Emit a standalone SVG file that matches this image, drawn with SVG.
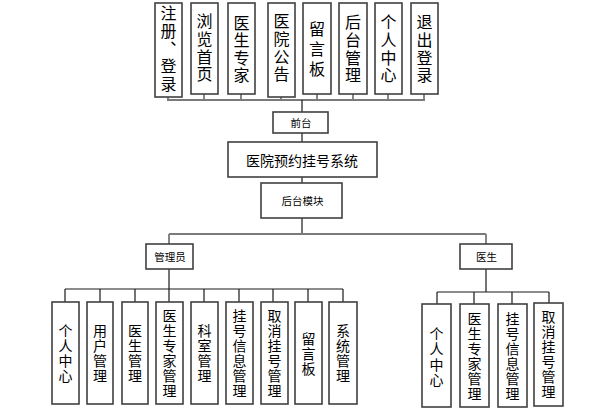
<svg xmlns="http://www.w3.org/2000/svg" width="606" height="413" viewBox="0 0 606 413">
<style>
.box{fill:#fff;stroke:#404040;stroke-width:1.6}
.t{font-family:"Noto Sans CJK SC","Liberation Sans",sans-serif;fill:#000;text-anchor:middle}
.h{dominant-baseline:central}
.v{writing-mode:vertical-rl;text-orientation:upright}
.big{font-size:16px;letter-spacing:1.6px}
.mid{font-size:14px;letter-spacing:1px}
.mid2{font-size:14px;letter-spacing:1.5px}
.ttl{font-size:14px}
.sm{font-size:10.5px}
.c1{fill:none;stroke:#7a7a7a;stroke-width:1.8}
.c2{fill:none;stroke:#1a1a1a;stroke-width:1.2}
</style>
<rect width="606" height="413" fill="#fff"/>
<g id="connectors">
<path class="c1" d="M167 100H425M168 97V100M204 94V100M241 94V100M281 97V100M317 94V100M353 94V100M388 94V100M424 94V100"/>
<path class="c2" d="M302 100V112M302 133V142M302 177V183M302 218V234"/>
<path class="c1" d="M169 234H486M169 234V244M486 234V244"/>
<path class="c2" d="M169 269V289M65 289H343M65 289V302M100 289V302M135 289V302M169 289V302M204 289V302M239 289V302M273 289V302M308 289V302M343 289V302"/>
<path class="c2" d="M486 269V292M437 292H549M437 292V304M474 292V304M512 292V304M549 292V303"/>
</g>
<g id="n_zhuce"><rect class="box" x="155" y="3" width="27" height="94"/>
<text class="t v big" x="168.5" y="49.3">注册、登录</text></g>
<g id="n_liulan"><rect class="box" x="191" y="3" width="27" height="91"/>
<text class="t v big" x="204.5" y="48.5">浏览首页</text></g>
<g id="n_zhuanjia"><rect class="box" x="228" y="3" width="27" height="91"/>
<text class="t v big" x="241.5" y="49.8">医生专家</text></g>
<g id="n_gonggao"><rect class="box" x="268" y="3" width="27" height="94"/>
<text class="t v big" x="281.5" y="48.5">医院公告</text></g>
<g id="n_liuyan"><rect class="box" x="303" y="3" width="28" height="91"/>
<text class="t v big" style="letter-spacing:4px" x="317" y="51">留言板</text></g>
<g id="n_houtai"><rect class="box" x="339" y="3" width="28" height="91"/>
<text class="t v big" x="353" y="49.5">后台管理</text></g>
<g id="n_geren"><rect class="box" x="375" y="3" width="27" height="91"/>
<text class="t v big" x="388.5" y="49.5">个人中心</text></g>
<g id="n_tuichu"><rect class="box" x="411" y="3" width="27" height="91"/>
<text class="t v big" x="424.5" y="49.5">退出登录</text></g>
<g id="n_qiantai"><rect class="box" x="273" y="112" width="55" height="21"/>
<text class="t h sm" x="301" y="122.5">前台</text></g>
<g id="n_system"><rect class="box" x="228" y="142" width="149" height="35"/>
<text class="t h ttl" x="302" y="159.5">医院预约挂号系统</text></g>
<g id="n_houtaimokuai"><rect class="box" x="261" y="183" width="81" height="35"/>
<text class="t h sm" x="302.5" y="200.5">后台模块</text></g>
<g id="n_admin"><rect class="box" x="146" y="244" width="47" height="25"/>
<text class="t h sm" x="170" y="256.5">管理员</text></g>
<g id="n_doctor"><rect class="box" x="460" y="244" width="52" height="25"/>
<text class="t h sm" x="486.5" y="256.5">医生</text></g>
<g id="a_geren"><rect class="box" x="52" y="302" width="27" height="102"/>
<text class="t v mid" x="65.5" y="354">个人中心</text></g>
<g id="a_yonghu"><rect class="box" x="87" y="302" width="26" height="102"/>
<text class="t v mid" x="100" y="354">用户管理</text></g>
<g id="a_yisheng"><rect class="box" x="122" y="302" width="26" height="102"/>
<text class="t v mid" x="135" y="354">医生管理</text></g>
<g id="a_zhuanjia"><rect class="box" x="156" y="302" width="27" height="102"/>
<text class="t v mid" x="169.5" y="354">医生专家管理</text></g>
<g id="a_keshi"><rect class="box" x="191" y="302" width="27" height="102"/>
<text class="t v mid" x="204.5" y="354">科室管理</text></g>
<g id="a_guahao"><rect class="box" x="226" y="302" width="27" height="102"/>
<text class="t v mid" x="239.5" y="354">挂号信息管理</text></g>
<g id="a_quxiao"><rect class="box" x="261" y="302" width="27" height="102"/>
<text class="t v mid" x="274.5" y="354">取消挂号管理</text></g>
<g id="a_liuyan"><rect class="box" x="295" y="302" width="27" height="102"/>
<text class="t v mid" x="308.5" y="354">留言板</text></g>
<g id="a_xitong"><rect class="box" x="329" y="302" width="28" height="102"/>
<text class="t v mid" x="343" y="354">系统管理</text></g>
<g id="d_geren"><rect class="box" x="422" y="304" width="29" height="103"/>
<text class="t v mid2" x="436.5" y="357.5">个人中心</text></g>
<g id="d_zhuanjia"><rect class="box" x="460" y="304" width="29" height="103"/>
<text class="t v mid" x="474.5" y="356.3">医生专家管理</text></g>
<g id="d_guahao"><rect class="box" x="498" y="304" width="29" height="103"/>
<text class="t v mid" x="512.5" y="356.3">挂号信息管理</text></g>
<g id="d_quxiao"><rect class="box" x="534" y="303" width="29" height="103"/>
<text class="t v mid" x="548.5" y="354.8">取消挂号管理</text></g>
</svg>
